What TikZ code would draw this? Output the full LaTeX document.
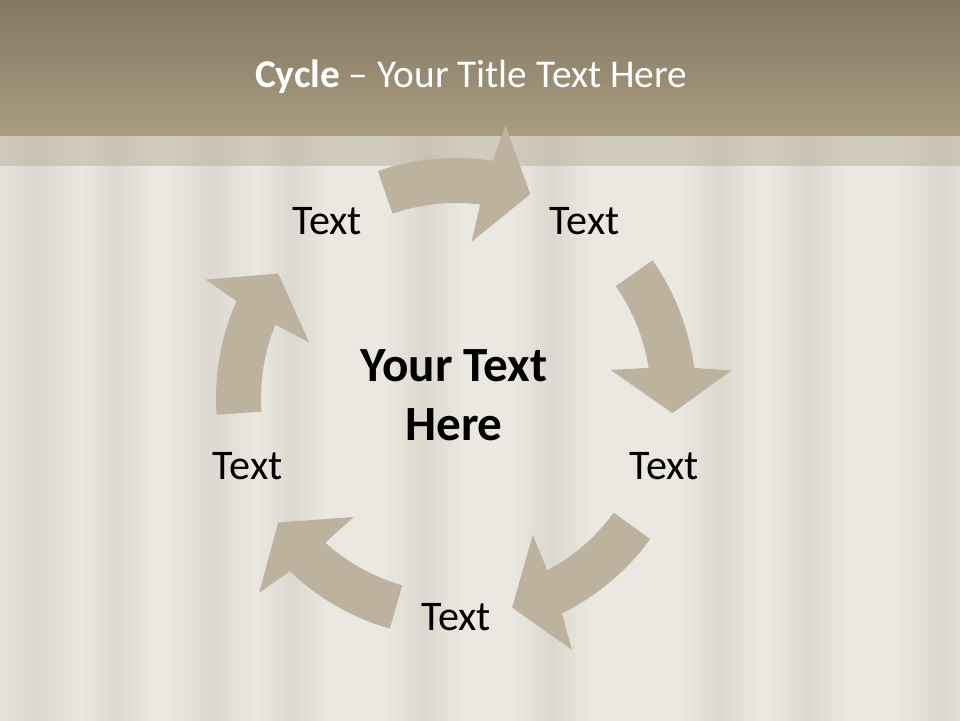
\documentclass[tikz,border=0pt]{standalone}
\usepackage{fontspec}
\setmainfont{Carlito}
\usetikzlibrary{calc}

\definecolor{barTop}{HTML}{766C5B}
\definecolor{barBot}{HTML}{A99C80}
\definecolor{paper}{HTML}{EBE8E1}
\definecolor{fold}{HTML}{DCD8CF}
\definecolor{stripTone}{HTML}{B3A993}
\definecolor{arrowFill}{HTML}{BCB29E}

\tikzset{
  fold band/.style={left color=paper, right color=paper, middle color=fold},
  cycle arrow/.style={fill=arrowFill, draw=none},
  step label/.style={font=\fontsize{30}{36}\selectfont, text=black},
}

% one curved arrow of the cycle, turned by #1 degrees round (c)
\newcommand{\cyclearrow}[1]{%
  \fill[cycle arrow, shift={(c)}, rotate=#1]
    (109:6) arc[start angle=109, end angle=81.2, radius=6]
    -- (79.7:6.925) -- (70:5.425) -- (84.3:3.925)
    -- (82.9:4.875) arc[start angle=82.9, end angle=109, radius=4.875] -- cycle;}

\begin{document}
\begin{tikzpicture}
  \useasboundingbox (0,0) rectangle (24,18);
  % paper with soft folds
  \fill[paper] (-1,-1) rectangle (25,19);
  \shade[fold band] (-0.4,-1) rectangle (2.2,19);
  \shade[fold band] (2.0,-1) rectangle (3.8,19);
  \shade[fold band] (4.2,-1) rectangle (6.4,19);
  \shade[fold band] (6.4,-1) rectangle (8.2,19);
  \shade[fold band] (9.6,-1) rectangle (11.6,19);
  \shade[fold band] (12.8,-1) rectangle (14.8,19);
  \shade[fold band] (17.0,-1) rectangle (19.0,19);
  \shade[fold band] (19.2,-1) rectangle (21.2,19);
  \shade[fold band] (22.4,-1) rectangle (24.6,19);
  % title bar and strip
  \shade[top color=barTop, bottom color=barBot] (-1,14.6) rectangle (25,19);
  \fill[stripTone, opacity=0.45] (-1,13.85) rectangle (25,14.6);
  \node[text=white, font=\fontsize{28}{34}\selectfont, anchor=base] (title) at (11.78,15.8)
    {\textbf{Cycle} – Your Title Text Here};

  \coordinate (c) at (11.4,8.05);
  \cyclearrow{0}
  \cyclearrow{-74}
  \cyclearrow{-145}
  \cyclearrow{-215}
  \cyclearrow{-285}

  \node[step label] (t1) at ($(c)+(126:5.475)$) {Text};
  \node[step label] (t2) at ($(c)+(54:5.475)$) {Text};
  \node[step label] (t3) at ($(c)+(-18:5.475)$) {Text};
  \node[step label] (t4) at ($(c)+(-90:5.475)$) {Text};
  \node[step label] (t5) at ($(c)+(198:5.475)$) {Text};
  \node[align=center, font=\fontsize{35}{42}\selectfont\bfseries] (hub) at (11.35,8.11)
    {Your Text\\Here};
\end{tikzpicture}
\end{document}
